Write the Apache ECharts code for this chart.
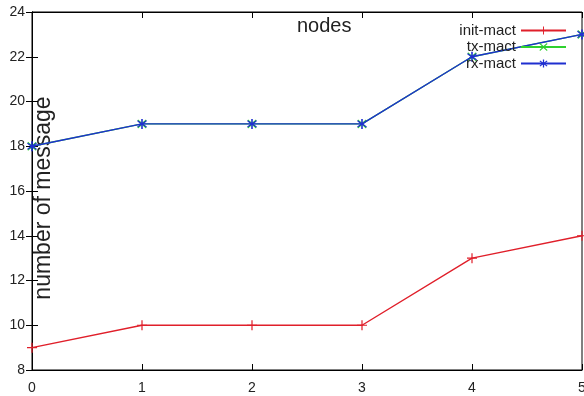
<!DOCTYPE html>
<html><head><meta charset="utf-8">
<script src="https://cdn.jsdelivr.net/npm/echarts@6/dist/echarts.min.js"></script>
<style>html,body{margin:0;padding:0;background:#fff}#c{width:584px;height:396px}</style>
</head><body><div id="c"></div>
<script>
var categories = [0, 1, 2, 3, 4, 5];
var initMact = [9, 10, 10, 10, 13, 14];
var txMact = [18, 19, 19, 19, 22, 23];
var rxMact = [18, 19, 19, 19, 22, 23];
var yTicks = [8, 10, 12, 14, 16, 18, 20, 22, 24];

var plusPath = 'path://M-0.6,-5 L0.6,-5 L0.6,-0.6 L5,-0.6 L5,0.6 L0.6,0.6 L0.6,5 L-0.6,5 L-0.6,0.6 L-5,0.6 L-5,-0.6 L-0.6,-0.6 Z';
var xPath = 'path://M-4,-3.2 L0,-0.8 L4,-3.2 L4.6,-2.4 L0.8,0 L4.6,2.4 L4,3.2 L0,0.8 L-4,3.2 L-4.6,2.4 L-0.8,0 L-4.6,-2.4 Z';
var starPath = 'path://M-0.7,-5 L0.7,-5 L0.7,-1.2 L3.6,-3.6 L4.4,-2.8 L1.4,0 L4.4,2.8 L3.6,3.6 L0.7,1.2 L0.7,5 L-0.7,5 L-0.7,1.2 L-3.6,3.6 L-4.4,2.8 L-1.4,0 L-4.4,-2.8 L-3.6,-3.6 L-0.7,-1.2 Z';

var font = 'Liberation Sans';
var chart = echarts.init(document.getElementById('c'), null, {renderer: 'canvas'});
var axisLine = {show: true, lineStyle: {color: '#000', width: 1}};
var tick = {show: true, inside: true, length: 6, lineStyle: {color: '#000'}};
chart.setOption({
  animation: false,
  backgroundColor: '#fff',
  title: {text: 'nodes', left: 297, top: 16, padding: 0, textStyle: {fontFamily: font, fontSize: 20, fontWeight: 'normal', color: '#222'}},
  graphic: [{
    type: 'text', x: 44, y: 198, rotation: Math.PI / 2, silent: true,
    style: {text: 'number of message', fontFamily: font, fontSize: 23, fill: '#222', align: 'center', verticalAlign: 'middle'}
  }],
  grid: {left: 32, right: 2, top: 12, bottom: 26, containLabel: false, outerBoundsMode: 'none', show: true, borderColor: '#000', borderWidth: 1, backgroundColor: 'transparent'},
  legend: {
    orient: 'vertical', right: 17, top: 23, padding: 0, align: 'right', itemWidth: 45, itemHeight: 10, itemGap: 1.5,
    textStyle: {fontFamily: font, fontSize: 15, color: '#222', padding: [0, 0, 0, 0]},
    data: ['init-mact', 'tx-mact', 'rx-mact']
  },
  xAxis: [{
    type: 'value', min: 0, max: 5, interval: 1,
    axisLine: axisLine, axisTick: tick, splitLine: {show: false},
    axisLabel: {fontFamily: font, fontSize: 14, color: '#222', margin: 11}
  }, {
    type: 'value', position: 'top', min: 0, max: 5, interval: 1,
    axisLine: axisLine, axisTick: tick, splitLine: {show: false}, axisLabel: {show: false}
  }],
  yAxis: [{
    type: 'value', min: yTicks[0], max: yTicks[yTicks.length - 1], interval: 2,
    axisLine: axisLine, axisTick: tick, splitLine: {show: false},
    axisLabel: {fontFamily: font, fontSize: 14, color: '#222', margin: 7}
  }, {
    type: 'value', position: 'right', min: yTicks[0], max: yTicks[yTicks.length - 1], interval: 2,
    axisLine: axisLine, axisTick: tick, splitLine: {show: false}, axisLabel: {show: false}
  }],
  series: [
    {name: 'init-mact', type: 'line', data: categories.map(function (c, i) { return [c, initMact[i]]; }),
     color: '#e01f2a', lineStyle: {width: 1.4, color: '#e01f2a'}, symbol: plusPath, symbolSize: 10, itemStyle: {color: '#e01f2a'}},
    {name: 'tx-mact', type: 'line', data: categories.map(function (c, i) { return [c, txMact[i]]; }),
     color: '#2ed12e', lineStyle: {width: 1.4, color: '#2ed12e'}, symbol: xPath, symbolSize: 9, itemStyle: {color: '#2ed12e'}},
    {name: 'rx-mact', type: 'line', data: categories.map(function (c, i) { return [c, rxMact[i]]; }),
     color: '#1f2fd0', lineStyle: {width: 1.4, color: '#1f2fd0'}, symbol: starPath, symbolSize: 10, itemStyle: {color: '#1f2fd0'}}
  ]
});
</script></body></html>
